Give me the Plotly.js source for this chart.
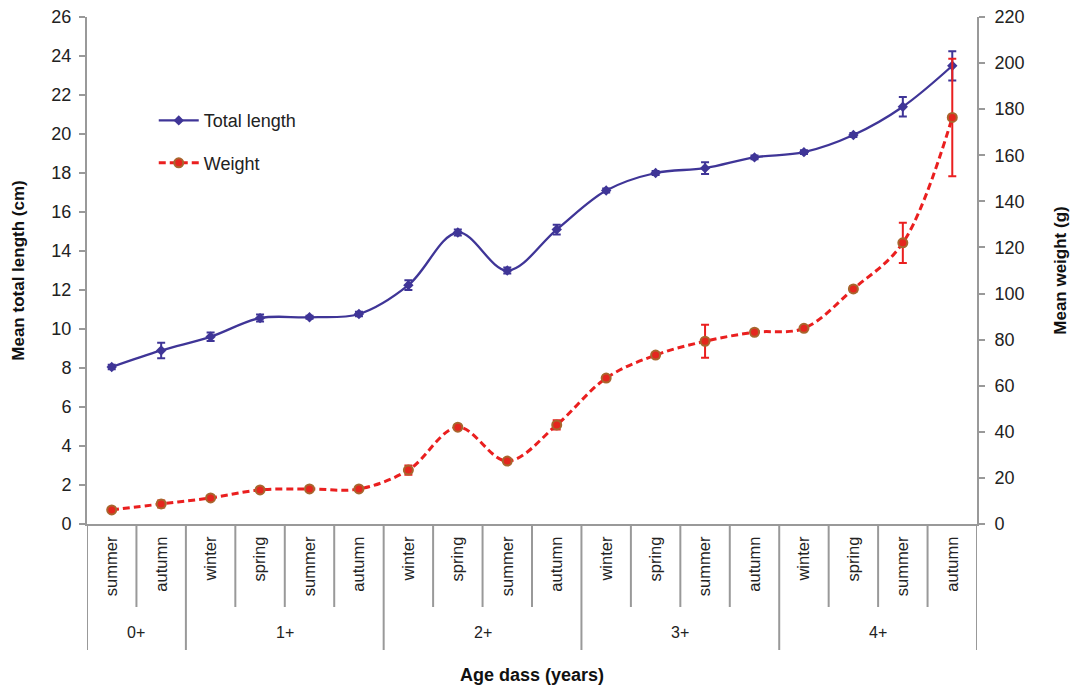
<!DOCTYPE html>
<html><head><meta charset="utf-8">
<script src="https://cdn.plot.ly/plotly-3.0.1.min.js"></script>
<style>body{margin:0;background:#fff}#chart{width:1080px;height:688px}</style>
</head><body><div id="chart"></div>
<script>
const ageGroups = ['0+','1+','2+','3+','4+'];
const ageClasses = ['0+','0+','1+','1+','1+','1+','2+','2+','2+','2+','3+','3+','3+','3+','4+','4+','4+','4+'];
const seasons = ['summer','autumn','winter','spring','summer','autumn','winter','spring','summer','autumn','winter','spring','summer','autumn','winter','spring','summer','autumn'];
const totalLength = [8.05,8.9,9.6,10.56,10.6,10.77,12.25,14.95,13.0,15.1,17.1,18.0,18.25,18.8,19.07,19.95,21.4,23.5];
const totalLengthErr = [0.12,0.4,0.22,0.18,0.08,0.12,0.25,0.15,0.15,0.25,0.1,0.1,0.3,0.1,0.1,0.1,0.5,0.75];
const weight = [6.1,8.7,11.3,14.8,15.2,15.2,23.4,42,27.3,43,63.3,73.3,79.3,83.2,84.9,102,122,176.4];
const weightErr = [0.8,1.5,0.8,0.8,0.6,0.6,2,1,1,2,1,1,7.2,1,1,1.2,8.7,25.5];

const idx = seasons.map((s, i) => i);
const traces = [
  {x: idx, y: totalLength, name: 'Total length', legendgroup: 'a', type: 'scatter', mode: 'lines+markers',
   line: {color: '#3F3597', width: 2.3, shape: 'spline'},
   marker: {symbol: 'diamond', size: 8, color: '#3F3597'},
   error_y: {type: 'data', array: totalLengthErr, visible: true, color: '#3F3597', thickness: 2, width: 4}},
  {x: idx, y: weight, name: 'Weight', legendgroup: 'b', type: 'scatter', mode: 'lines+markers', yaxis: 'y2',
   line: {color: '#EA1F1F', width: 3, dash: '7px,4px', shape: 'spline'},
   marker: {symbol: 'circle', size: 9, color: '#E4261E', line: {color: '#A8662E', width: 2}},
   error_y: {type: 'data', array: weightErr, visible: true, color: '#EA1F1F', thickness: 2, width: 4}}
];

// axis decorations: category boundaries and group labels (built from the category arrays)
const shapes = [];
const annotations = [];
const innerLen = 83 / 507, outerLen = 126 / 507;
for (let i = 0; i <= seasons.length; i++) {
  const b = i - 0.5;
  const isGroupEdge = i === 0 || i === seasons.length || ageClasses[i] !== ageClasses[i - 1];
  shapes.push({type: 'line', xref: 'x', yref: 'paper', x0: b, x1: b, y0: 0, y1: -(isGroupEdge ? outerLen : innerLen),
    line: {color: '#999', width: 2}});
}
ageGroups.forEach(g => {
  const members = idx.filter(i => ageClasses[i] === g);
  const mid = (members[0] + members[members.length - 1]) / 2;
  annotations.push({xref: 'x', yref: 'paper', x: mid, y: -108 / 507, text: g, showarrow: false,
    xanchor: 'center', yanchor: 'middle', font: {family: 'Liberation Sans, Arial, sans-serif', size: 16, color: '#222'}});
});
annotations.push({xref: 'paper', yref: 'paper', x: 0.5, y: -151 / 507, text: '<b>Age dass (years)</b>', showarrow: false,
  xanchor: 'center', yanchor: 'middle', font: {family: 'Liberation Sans, Arial, sans-serif', size: 18, color: '#111'}});

const fnt = {family: 'Liberation Sans, Arial, sans-serif', color: '#222'};
const layout = {
  width: 1080, height: 688,
  margin: {l: 87, r: 103, t: 17, b: 164},
  paper_bgcolor: '#fff', plot_bgcolor: '#fff',
  showlegend: true,
  legend: {x: 0.075, y: 0.832, xanchor: 'left', yanchor: 'top', font: Object.assign({size: 18}, fnt), itemwidth: 40, tracegroupgap: 16, bgcolor: 'rgba(0,0,0,0)'},
  xaxis: {range: [-0.5, seasons.length - 0.5], tickmode: 'array', tickvals: idx, ticktext: seasons,
    showgrid: false, zeroline: false, showline: true, linecolor: '#999', linewidth: 2,
    ticks: '', tickangle: -90, ticklabelstandoff: 4, tickfont: Object.assign({size: 16.5}, fnt)},
  yaxis: {range: [0, 26], dtick: 2, showgrid: false, zeroline: false, showline: true, linecolor: '#999', linewidth: 2,
    ticks: 'outside', ticklen: 6, tickcolor: '#999', tickwidth: 2, ticklabelstandoff: 4, tickfont: Object.assign({size: 18}, fnt),
    title: {text: 'Mean total length (cm)', font: Object.assign({size: 17, weight: 'bold'}, fnt, {color: '#111'}), standoff: 22}},
  yaxis2: {range: [0, 220], dtick: 20, overlaying: 'y', side: 'right', showgrid: false, zeroline: false, showline: true, linecolor: '#999', linewidth: 2,
    ticks: 'outside', ticklen: 6, tickcolor: '#999', tickwidth: 2, ticklabelstandoff: 6, tickfont: Object.assign({size: 18}, fnt),
    title: {text: 'Mean weight (g)', font: Object.assign({size: 17, weight: 'bold'}, fnt, {color: '#111'}), standoff: 30}},
  shapes: shapes,
  annotations: annotations
};
Plotly.newPlot('chart', traces, layout, {displayModeBar: false});
</script></body></html>
